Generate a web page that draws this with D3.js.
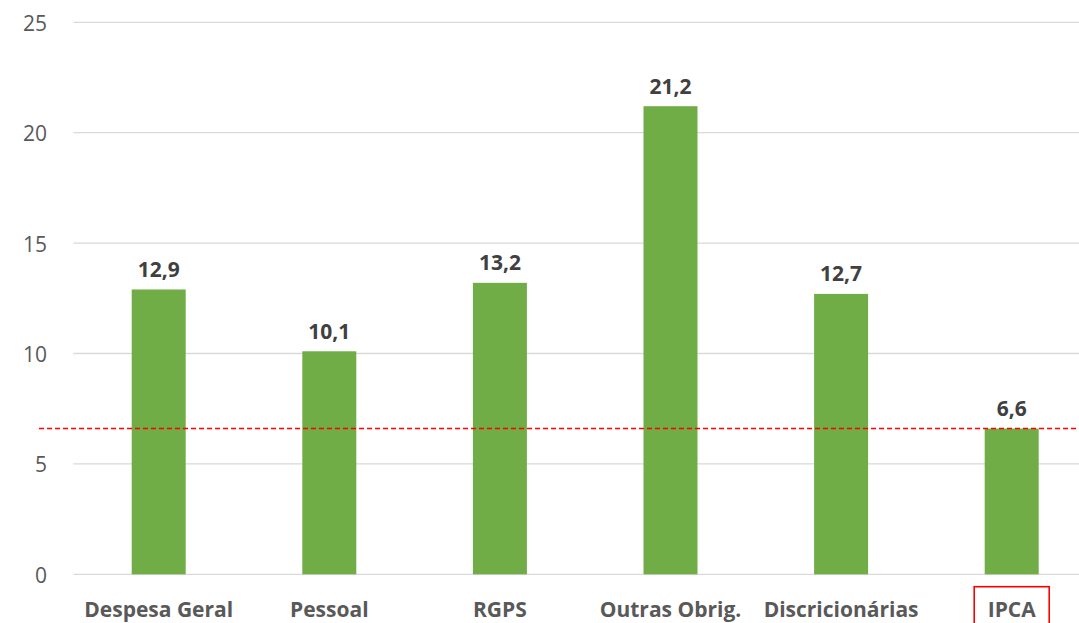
<!DOCTYPE html>
<html><head><meta charset="utf-8">
<script src="https://cdn.jsdelivr.net/npm/d3@7"></script>
<style>body{margin:0;background:#fff;overflow:hidden}svg{display:block}</style>
</head><body><svg id="c" width="1079" height="623"></svg>
<script>
const categories = ["Despesa Geral","Pessoal","RGPS","Outras Obrig.","Discricionárias","IPCA"];
const values = [12.9,10.1,13.2,21.2,12.7,6.6];
const yTicks = [0,5,10,15,20,25];
const refValue = 6.6;

const svg = d3.select("#c");
const pLeft = 73.4, pRight = 1097, pTop = 22.3, pBottom = 574.3;
const x = d3.scaleBand().domain(categories).range([pLeft,pRight]).paddingInner(0.684).paddingOuter(0.342);
const y = d3.scaleLinear().domain([0,25]).range([pBottom,pTop]);
const font = "'Open Sans', 'Liberation Sans', sans-serif";

svg.append("g").selectAll("line").data(yTicks).join("line")
  .attr("x1",pLeft).attr("x2",1079).attr("y1",d=>y(d)).attr("y2",d=>y(d))
  .attr("stroke","#d9d9d9").attr("stroke-width",1.3);
svg.append("g").selectAll("text").data(yTicks).join("text")
  .attr("x",47).attr("y",d=>y(d)+8.5).attr("text-anchor","end")
  .attr("font-family",font).attr("font-size",21).attr("fill","#595959").text(d=>d);

const bw = 54;
svg.append("g").selectAll("rect").data(values).join("rect")
  .attr("x",(d,i)=>x(categories[i])+x.bandwidth()/2-bw/2).attr("width",bw)
  .attr("y",d=>y(d)).attr("height",d=>y(0)-y(d)).attr("fill","#70ad47");

svg.append("line").attr("x1",39).attr("x2",1079).attr("y1",y(refValue)).attr("y2",y(refValue))
  .attr("stroke","#ff0000").attr("stroke-width",1.6).attr("stroke-dasharray","5,3");

svg.append("g").selectAll("text").data(values).join("text")
  .attr("x",(d,i)=>x(categories[i])+x.bandwidth()/2).attr("y",d=>y(d)-12.5)
  .attr("text-anchor","middle").attr("font-family",font).attr("font-weight","bold")
  .attr("font-size",21).attr("fill","#404040").text(d=>d.toFixed(1).replace(".",","));

svg.append("g").selectAll("text").data(categories).join("text")
  .attr("x",d=>x(d)+x.bandwidth()/2).attr("y",617)
  .attr("text-anchor","middle").attr("font-family",font).attr("font-weight","bold")
  .attr("font-size",21).attr("fill","#595959").text(d=>d);

const ipcaX = x("IPCA")+x.bandwidth()/2;
svg.append("rect").attr("x",ipcaX-37.5).attr("y",586.7).attr("width",75).attr("height",45)
  .attr("fill","none").attr("stroke","#ff0000").attr("stroke-width",1.6);
</script></body></html>
